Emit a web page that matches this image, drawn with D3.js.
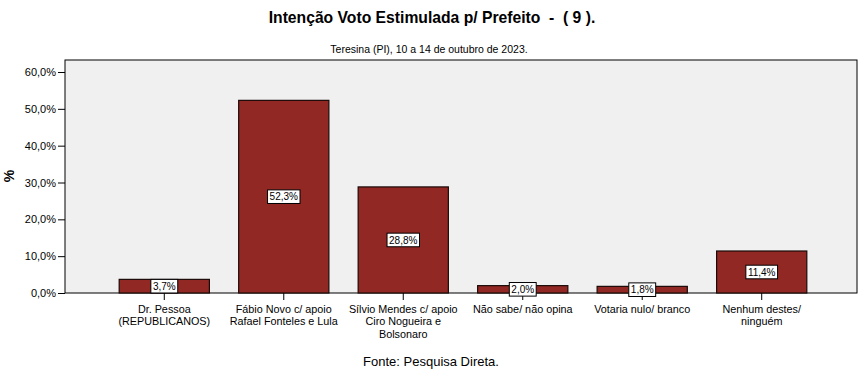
<!DOCTYPE html>
<html><head><meta charset="utf-8">
<script src="https://cdn.jsdelivr.net/npm/d3@7/dist/d3.min.js"></script>
<style>body{margin:0;background:#fff;}svg{display:block;font-family:Arial,"Liberation Sans",sans-serif;}</style>
</head><body>
<svg id="c" width="863" height="370"></svg>
<script>
const categories = [
  ["Dr. Pessoa","(REPUBLICANOS)"],
  ["Fábio Novo c/ apoio","Rafael Fonteles e Lula"],
  ["Sílvio Mendes c/ apoio","Ciro Nogueira e","Bolsonaro"],
  ["Não sabe/ não opina"],
  ["Votaria nulo/ branco"],
  ["Nenhum destes/","ninguém"]
];
const values = [3.7, 52.3, 28.8, 2.0, 1.8, 11.4];
const yTicks = [0,10,20,30,40,50,60];
const title = "Intenção Voto Estimulada p/ Prefeito  -  ( 9 ).";
const subtitle = "Teresina (PI), 10 a 14 de outubro de 2023.";
const source = "Fonte: Pesquisa Direta.";

const svg = d3.select("#c");
const L=65, R=857, T=60, B=293;
const fmt = v => v.toFixed(1).replace(".", ",") + "%";

svg.append("text").attr("x",432).attr("y",23).attr("text-anchor","middle")
  .style("white-space","pre").attr("xml:space","preserve")
  .attr("font-size","15.7px").attr("font-weight","bold").text(title);
svg.append("text").attr("x",429).attr("y",53).attr("text-anchor","middle")
  .attr("font-size","10.5px").text(subtitle);

svg.append("rect").attr("x",L).attr("y",T).attr("width",R-L).attr("height",B-T)
  .attr("fill","#f0f0f0").attr("stroke","#000").attr("stroke-width",1);

const idx = categories.map((d,i)=>i);
const x = d3.scaleBand().domain(idx).range([69,857]).paddingInner(0.245).paddingOuter(0.42);
const y = d3.scaleLinear().domain([0,60]).range([B,72]);

const yAxis = svg.append("g").attr("transform",`translate(${L},0)`)
  .call(d3.axisLeft(y).tickValues(yTicks).tickFormat(fmt).tickSize(7).tickPadding(2));
yAxis.select(".domain").remove();
yAxis.selectAll("text").attr("font-size","11px").attr("fill","#000").attr("font-family","Arial,'Liberation Sans',sans-serif");
yAxis.selectAll("line").attr("stroke","#000");

svg.append("text").attr("transform","translate(14,176) rotate(-90)").attr("text-anchor","middle")
  .attr("font-size","14px").attr("font-weight","bold").text("%");

svg.selectAll(".bar").data(values).enter().append("rect")
  .attr("x",(d,i)=>x(i)).attr("y",d=>y(d)).attr("width",x.bandwidth())
  .attr("height",d=>B-y(d)).attr("fill","#922823").attr("stroke","#1a0a08").attr("stroke-width",1.2);

const xAxis = svg.append("g").attr("transform",`translate(0,${B})`)
  .call(d3.axisBottom(x).tickSize(7).tickFormat(""));
xAxis.select(".domain").remove();
xAxis.selectAll("line").attr("stroke","#000");

categories.forEach((lines,i)=>{
  const t = svg.append("text").attr("x",x(i)+x.bandwidth()/2).attr("y",313)
    .attr("text-anchor","middle").attr("font-size","10.8px");
  lines.forEach((ln,j)=>t.append("tspan").attr("x",x(i)+x.bandwidth()/2).attr("dy",j?12.3:0).text(ln));
});

values.forEach((v,i)=>{
  const cx = x(i)+x.bandwidth()/2, cy = (y(v)+B)/2;
  const g = svg.append("g");
  const r = g.append("rect");
  const t = g.append("text").attr("x",cx).attr("y",cy+3.6).attr("text-anchor","middle")
    .attr("font-size","10px").text(fmt(v));
  const bb = t.node().getBBox();
  r.attr("x",cx-bb.width/2-2).attr("y",cy-6.8).attr("width",bb.width+4).attr("height",13.6)
    .attr("fill","#fff").attr("stroke","#000").attr("stroke-width",1);
});

svg.append("text").attr("x",431).attr("y",366).attr("text-anchor","middle")
  .attr("font-size","13px").text(source);
</script>
</body></html>
